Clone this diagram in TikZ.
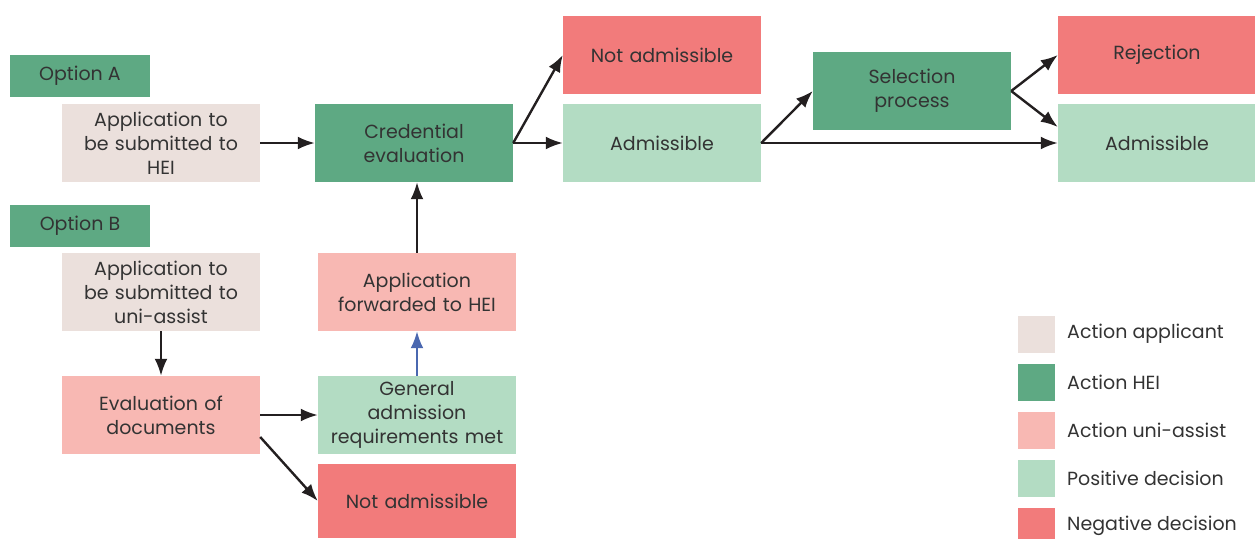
\documentclass[tikz,border=0pt]{standalone}
\usepackage{fontspec}
\setmainfont{Poppins}
\usetikzlibrary{arrows.meta}
\definecolor{applicant}{HTML}{EBE0DC}
\definecolor{hei}{HTML}{5EA983}
\definecolor{uniassist}{HTML}{F8B8B3}
\definecolor{positive}{HTML}{B3DCC3}
\definecolor{negative}{HTML}{F27B7B}
\definecolor{txt}{HTML}{333333}
\definecolor{arrowcol}{HTML}{231F20}
\definecolor{fwdarrow}{HTML}{4A68B0}
\tikzset{
  box/.style={minimum width=198pt,minimum height=78pt,inner sep=2pt,
    align=center,text width=194pt,font=\fontsize{19}{24}\selectfont,text=txt},
  optbox/.style={fill=hei,minimum width=140pt,minimum height=42pt,
    font=\fontsize{19}{24}\selectfont,text=txt},
  keybox/.style={minimum width=37pt,minimum height=37pt,inner sep=0pt},
  keytext/.style={anchor=west,inner sep=0pt,font=\fontsize{19}{24}\selectfont,text=txt},
  flow/.style={line width=2.4pt,color=arrowcol,
    -{Latex[length=17pt,width=13pt]}}
}
\begin{document}
\begin{tikzpicture}[x=1pt,y=-1pt]
\useasboundingbox (0,0) rectangle (1255,538);
\node(optA) at (80,76)[optbox]              {Option A};
\node(appA) at (161,143)[box,fill=applicant] {Application to\\be submitted to\\HEI};
\node(cred) at (414,143)[box,fill=hei]       {Credential\\evaluation};
\node(nadmA) at (662,55)[box,fill=negative]  {Not admissible};
\node(admA) at (662,143)[box,fill=positive]  {Admissible};
\node(sel) at (912,91)[box,fill=hei]         {Selection\\process};
\node(rej) at (1157,55)[box,fill=negative,minimum width=196pt] {Rejection};
\node(admB) at (1157,143)[box,fill=positive,minimum width=196pt] {Admissible};
\node(optB) at (80,226)[optbox]              {Option B};
\node(appB) at (161,292)[box,fill=applicant] {Application to\\be submitted to\\uni-assist};
\node(fwd) at (417,292)[box,fill=uniassist]  {Application\\forwarded to HEI};
\node(evald) at (161,415)[box,fill=uniassist] {Evaluation of\\documents};
\node(gen) at (417,415)[box,fill=positive]   {General\\admission\\requirements met};
\node(nadmB) at (417,501)[box,fill=negative,minimum height=74pt] {Not admissible};

% legend
\node(k1) at (1036,334)[keybox,fill=applicant]{};
\node(k2) at (1036,382)[keybox,fill=hei]{};
\node(k3) at (1036,430)[keybox,fill=uniassist]{};
\node(k4) at (1036,478)[keybox,fill=positive]{};
\node(k5) at (1036,526)[keybox,fill=negative]{};
\node at (1067,334)[keytext] {Action applicant};
\node at (1067,382)[keytext] {Action HEI};
\node at (1067,430)[keytext] {Action uni-assist};
\node at (1067,478)[keytext] {Positive decision};
\node at (1067,526)[keytext] {Negative decision};

\path [flow]
  (appA.east)  edge  (cred.west)
  (cred.east)  edge  (nadmA.west)
  (cred.east)  edge  (admA.west)
  (admA.east)  edge  (sel.west)
  (admA.east)  edge  (admB.west)
  (sel.east)   edge  (rej.west)
  (sel.east)   edge  ([yshift=16pt]admB.west)
  (appB.south) edge  (evald.north)
  (evald.east) edge  (gen.west)
  ([yshift=-22pt]evald.east) edge (nadmB.west)
  (fwd.north)  edge  (fwd.north|-cred.south);
\draw [flow,color=fwdarrow] (gen.north) -- (fwd.south);

\end{tikzpicture}
\end{document}
